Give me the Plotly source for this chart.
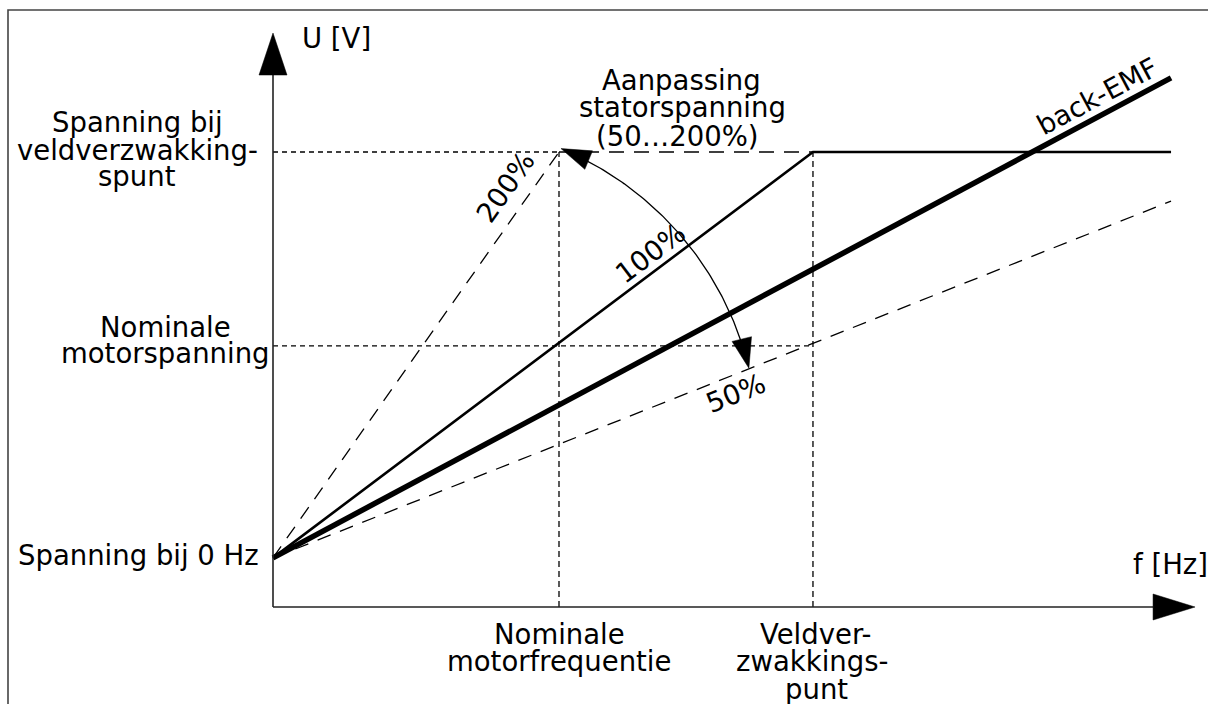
import numpy as np
import plotly.graph_objects as go

# ---------------- data (per-unit: f relative to nominal motor frequency,
#                  U relative to the field-weakening-point voltage) -------------
F_NOM = 1.0        # nominale motorfrequentie
F_FWP = 1.888      # veldverzwakkingspunt
F_END = 3.14       # right end of the drawn curves
U_0HZ = 0.108      # spanning bij 0 Hz
U_NOM = 0.574      # nominale motorspanning
U_FWP = 1.0        # spanning bij veldverzwakkingspunt

line100_f = [0.0, F_FWP, F_END]
line100_u = [U_0HZ, U_FWP, U_FWP]
line200_f = [0.0, F_NOM]
line200_u = [U_0HZ, U_FWP]
line50_f = [0.0, F_END]
line50_u = [U_0HZ, 0.892]
emf_f = [0.0, F_END]
emf_u = [U_0HZ, 1.163]

AXIS_F_MAX = 3.224
AXIS_U_MAX = 1.2615

# ---------------- scale set-up (figure pixels <-> data) ----------------------
W, H = 1208, 704
OX, OY = 273.0, 607.0      # pixel position of the axis origin
SX, SY = 286.0, 455.0      # pixels per unit


def to_data(px, py):
    return (np.asarray(px, float) - OX) / SX, (OY - np.asarray(py, float)) / SY


def to_px(f, u):
    return OX + np.asarray(f, float) * SX, OY - np.asarray(u, float) * SY


XR = [(0 - OX) / SX, (W - OX) / SX]
YR = [(OY - H) / SY, OY / SY]

fig = go.Figure()
BLACK = "#000000"


def add_line(xs, ys, width=1.5, dash="solid", color=BLACK):
    fig.add_trace(go.Scatter(x=xs, y=ys, mode="lines", hoverinfo="skip",
                             line=dict(color=color, width=width, dash=dash),
                             showlegend=False))


def add_tri(pts_px):
    xs, ys = to_data([p[0] for p in pts_px] + [pts_px[0][0]],
                     [p[1] for p in pts_px] + [pts_px[0][1]])
    fig.add_trace(go.Scatter(x=xs, y=ys, mode="lines", fill="toself",
                             fillcolor=BLACK, line=dict(color=BLACK, width=0.5),
                             hoverinfo="skip", showlegend=False))


def arrowhead(tip, direction, length, half):
    d = np.asarray(direction, float)
    d = d / np.hypot(*d)
    n = np.array([-d[1], d[0]])
    t = np.asarray(tip, float)
    b = t - d * length
    return [tuple(t), tuple(b + n * half), tuple(b - n * half)]


# border (left & top edge of the frame)
bx, by = to_data([8, 8, W + 5], [H + 5, 10, 10])
add_line(bx, by, width=1.6, color="#444444")

# reference lines
add_line([0, F_NOM], [U_FWP, U_FWP], width=1.3, dash="5px,4px")
add_line([F_NOM, F_FWP], [U_FWP, U_FWP], width=1.3, dash="15px,10px")
add_line([0, F_FWP], [U_NOM, U_NOM], width=1.3, dash="5px,4px")
add_line([F_NOM, F_NOM], [0, U_FWP], width=1.3, dash="6px,4px")
add_line([F_FWP, F_FWP], [0, U_FWP], width=1.3, dash="6px,4px")

# characteristic lines
add_line(line200_f, line200_u, width=1.3, dash="14px,10px")
add_line(line50_f, line50_u, width=1.3, dash="14px,10px")
add_line(line100_f, line100_u, width=2.6)
add_line(emf_f, emf_u, width=5.5)

# axes
add_line([0, 0], [0, to_data(0, 75)[1]], width=1.6, color="#222222")
add_line([0, to_data(1153, 0)[0]], [0, 0], width=1.6, color="#222222")
tx, ty = to_px(0, AXIS_U_MAX)
add_tri(arrowhead((tx, ty), (0, -1), 42, 14))
tx, ty = to_px(AXIS_F_MAX, 0)
add_tri(arrowhead((tx, ty), (1, 0), 42, 13))

# adjustment arc with two arrowheads
CX, CY, R = 438.0, 444.0, 320.0
th = np.radians(np.linspace(63.5, 18.5, 80))
ax_, ay_ = to_data(CX + R * np.cos(th), CY - R * np.sin(th))
add_line(ax_, ay_, width=1.3)
t1 = np.radians(67.4)
add_tri(arrowhead((CX + R * np.cos(t1), CY - R * np.sin(t1)),
                  (-np.sin(t1), -np.cos(t1)), 30, 10))
t2 = np.radians(13.7)
add_tri(arrowhead((CX + R * np.cos(t2), CY - R * np.sin(t2)),
                  (np.sin(t2), np.cos(t2)), 30, 10))

# ---------------- text -------------------------------------------------------
FONT = dict(family="DejaVu Sans", size=27.5, color=BLACK)
labels = [
    ("U [V]", 336, 38, 0),
    ("Spanning bij", 137, 122, 0),
    ("veldverzwakking-", 137, 150, 0),
    ("spunt", 137, 176, 0),
    ("Nominale", 165, 327, 0),
    ("motorspanning", 165, 353, 0),
    ("Spanning bij 0 Hz", 138, 555, 0),
    ("Aanpassing", 681, 80, 0),
    ("statorspanning", 682, 107, 0),
    ("(50…200%)", 677, 136, 0),
    ("Nominale", 559, 634, 0),
    ("motorfrequentie", 559, 661, 0),
    ("Veldver-", 815, 634, 0),
    ("zwakkings-", 812, 661, 0),
    ("punt", 816, 689, 0),
    ("f [Hz]", 1170, 564, 0),
    ("200%", 505, 187, -55),
    ("100%", 650, 253, -37),
    ("50%", 735, 393, -22),
    ("back-EMF", 1097, 96, -28),
]
for txt, px, py, ang in labels:
    x, y = to_data(px, py)
    fig.add_annotation(x=float(x), y=float(y), text=txt, showarrow=False,
                       xanchor="center", yanchor="middle", textangle=ang,
                       font=FONT)

fig.update_layout(
    width=W, height=H, margin=dict(l=0, r=0, t=0, b=0, pad=0),
    plot_bgcolor="white", paper_bgcolor="white", showlegend=False,
    xaxis=dict(range=XR, visible=False, fixedrange=True),
    yaxis=dict(range=YR, visible=False, fixedrange=True),
)

fig.write_html("out.html", config={"displayModeBar": False},
               post_script="document.body.style.margin='0';")
